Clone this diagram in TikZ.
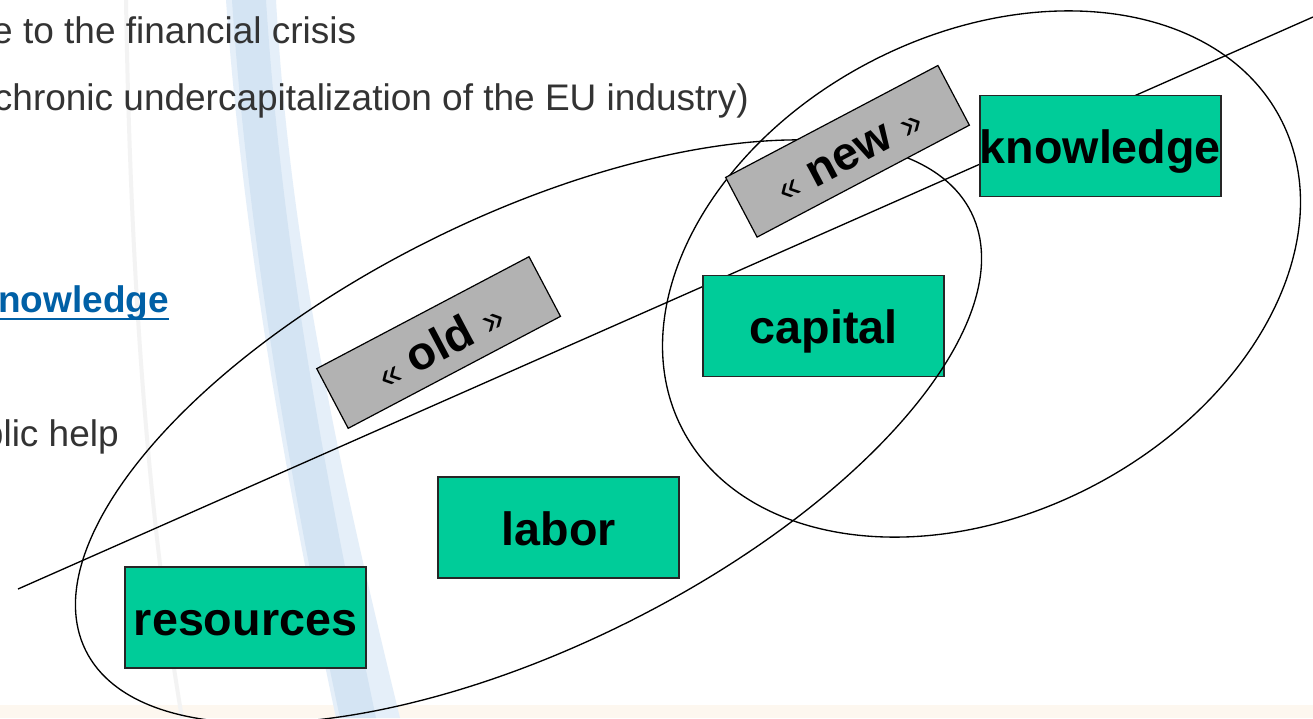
\documentclass[tikz,border=0pt]{standalone}
\usepackage{fontspec}
\setmainfont{Liberation Sans}
\usetikzlibrary{shapes.geometric}
\definecolor{boxgreen}{RGB}{0,204,153}
\definecolor{boxgray}{RGB}{178,178,178}
\definecolor{txtgray}{RGB}{51,51,51}
\definecolor{linkblue}{RGB}{0,96,166}
\definecolor{bandpale}{RGB}{229,239,249}
\definecolor{bandcore}{RGB}{212,228,243}
\definecolor{streak}{RGB}{243,243,243}
\definecolor{footband}{RGB}{253,247,239}
\newcommand{\gq}[1]{{\mdseries\fontsize{28}{30}\selectfont #1}}
\begin{document}
\begin{tikzpicture}[x=0.75pt,y=-0.75pt,
  greenbox/.style={draw=black!85, line width=1.1pt, fill=boxgreen,
    minimum width=180.75pt, minimum height=75.75pt, inner sep=0pt,
    font=\fontsize{35}{40}\selectfont\bfseries, text height=26.6pt, text depth=0pt},
  graybox/.style={draw=black, line width=0.9pt, fill=boxgray,
    minimum width=180pt, minimum height=50.6pt, inner sep=0pt, rotate=27.8,
    font=\fontsize{35}{40}\selectfont\bfseries, text height=26.6pt, text depth=0pt},
  setring/.style={draw=black, line width=1pt, ellipse, inner sep=0pt, outer sep=0pt},
  bodytext/.style={inner sep=0pt, text=txtgray, font=\fontsize{27.75}{33}\selectfont},
  divider/.style={draw=black, line width=1pt}
]
\useasboundingbox (0,0) rectangle (1313,718);
\clip (0,0) rectangle (1313,718);
\fill[white] (0,0) rectangle (1313,718);
% slide background
\fill[footband] (0,705) rectangle (1313,718);
\draw[streak, line width=3pt] (126,0) .. controls (130,250) and (145,500) .. (182,718);
\fill[bandpale] (226,0) .. controls (244,250) and (290,500) .. (336,718)
  -- (400,718) .. controls (342,480) and (290,250) .. (276,0) -- cycle;
\fill[bandcore] (232,0) .. controls (249,250) and (294,500) .. (340,718)
  -- (376,718) .. controls (326,480) and (282,250) .. (266,0) -- cycle;
% texts
\node[bodytext, anchor=base east] (t1) at (356.5,43.3) {e to the financial crisis};
\node[bodytext, anchor=base east] (t2) at (749,110) {chronic undercapitalization of the EU industry)};
\node[bodytext, anchor=base west, text=linkblue, font=\fontsize{27.75}{33}\selectfont\bfseries] (t3) at (-2,312.7) {nowledge};
\draw[linkblue, line width=1.9pt] ([yshift=-4.7pt]t3.base west) -- ([yshift=-4.7pt]t3.base east);
\node[bodytext, anchor=base east] (t4) at (119,446.7) {blic help};
% dividing line
\coordinate (lineA) at (18,589);
\coordinate (lineB) at (1313,17);
\draw[divider] (lineA) -- (lineB);
% factor boxes
\node[greenbox] (resources) at (245.5,617.5) {resources};
\node[greenbox] (labor) at (558.7,527.5) {labor};
\node[greenbox] (capital) at (823.6,325.9) {capital};
\node[greenbox] (knowledge) at (1100.3,146.2) {\makebox[0pt]{knowledge}};
% sets
\node[setring, minimum width=741pt, minimum height=322.5pt, rotate=26.3] (oldset) at (528.5,431.5) {};
\node[setring, minimum width=505.5pt, minimum height=359.25pt, rotate=27.35] (newset) at (981.5,274) {};
% labels
\node[graybox] (old) at (438.6,342.5) {\gq{«} old \gq{»}};
\node[graybox] (new) at (847.5,151.3) {\gq{«} new \gq{»}};
\end{tikzpicture}
\end{document}
